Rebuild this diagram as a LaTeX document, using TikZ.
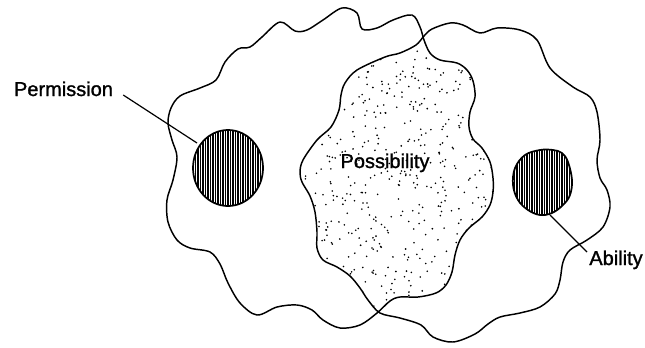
\documentclass[tikz,border=0pt]{standalone}
\usepackage{fontspec}
\setmainfont{Liberation Sans}[AutoFakeBold=1.3]
\begin{document}
\begin{tikzpicture}[x=0.75pt,y=-0.75pt,
  blob/.style={line width=1.1pt, line join=round},
  oval/.style={line width=1.3pt},
  lbl/.style={font=\fontsize{15}{18}\selectfont\bfseries, inner sep=0pt, anchor=base},
  leader/.style={line width=0.9pt}]
\useasboundingbox (0,0) rectangle (645,347);
\def\leftblob{plot[smooth cycle, tension=0.55] coordinates {
(168,123) (171,108) (180,96) (200,88) (216,80) (225,62) (238,49) (250,47) (262,37) (280,22) (295,31) (307,30) (323,20) (342,8) (357,13) (362,29) (377,28) (393,20) (412,15) (420,27) (424,40) (430,53) (440,60) (457,63) (467,70) (473,81) (475,97) (470,112) (469,127) (473,139) (482,148) (490,162) (493,178) (493,192) (490,205) (482,217) (469,228) (460,240) (455,255) (452,272) (446,285) (436,293) (418,297) (400,297) (390,301) (377,313) (360,325) (340,328) (323,320) (312,310) (297,305) (277,307) (257,315) (240,303) (228,283) (220,264) (210,252) (190,248) (177,240) (168,222) (167,200) (173,180) (177,157) (172,140)}}
\def\rightblob{plot[smooth cycle, tension=0.55] coordinates {
(400,53) (416,45) (424,36) (432,29) (450,23) (463,25) (480,33) (497,28) (520,30) (537,40) (550,68) (573,87) (590,97) (597,112) (600,140) (597,160) (600,178) (607,190) (610,207) (603,227) (587,240) (570,250) (563,262) (560,280) (555,294) (540,307) (520,313) (500,317) (488,324) (475,334) (453,342) (433,337) (421,325) (400,318) (380,313) (368,300) (360,288) (350,276) (337,267) (323,260) (317,248) (317,232) (315,212) (310,196) (302,182) (300,172) (303,160) (317,140) (331,127) (339,110) (341,95) (345,83) (357,70) (385,57)}}
\def\abiloval{plot[smooth cycle, tension=0.6] coordinates {
(553,150) (562,153) (568,162) (572,180) (570,195) (563,205) (552,213) (540,215) (528,210) (518,200) (513,185) (515,168) (525,155) (540,150)}}
% stipple
\begin{scope}
\clip \leftblob;
\clip \rightblob;
\pgfmathsetseed{7}
\foreach \i in {1,...,650}{
  \pgfmathsetmacro\dx{300+195*rnd}
  \pgfmathsetmacro\dy{38+305*rnd}
  \fill (\dx,\dy) circle[radius=0.9];
}
\end{scope}
% blobs
\draw[blob] \leftblob;
\draw[blob] \rightblob;
% permission oval
\begin{scope}
\clip (228,168) ellipse [x radius=35, y radius=38];
\fill (190,126) rectangle (266,210);
\foreach \x in {194,196.5,...,262} \draw[white, line width=0.5pt] (\x,126) -- (\x,210);
\end{scope}
\draw[oval] (228,168) ellipse [x radius=35, y radius=38];
% ability oval
\begin{scope}
\clip \abiloval;
\fill (508,146) rectangle (578,220);
\foreach \x in {513,515.5,...,572} \draw[white, line width=0.5pt] (\x,146) -- (\x,220);
\end{scope}
\draw[oval] \abiloval;
% labels
\node[lbl] (permlbl) at (63.5,96) {Permission};
\node[lbl] (posslbl) at (385,168) {Possibility};
\node[lbl] (abillbl) at (616,265) {Ability};
\coordinate (permend) at (197,143);
\coordinate (abilend) at (550,215);
\draw[leader] ([shift={(10,-1)}]permlbl.base east) -- (permend);
\draw[leader] (abilend) -- ([shift={(-2,-13)}]abillbl.base west);
\end{tikzpicture}
\end{document}
